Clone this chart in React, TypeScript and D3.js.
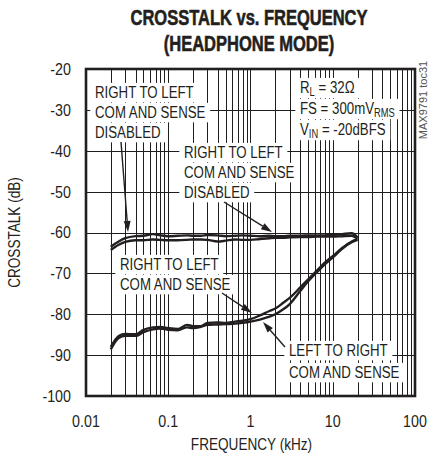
import React, { useEffect, useRef } from 'react';
import * as d3 from 'd3';

const W = 439;
const H = 457;

const titleLines = ['CROSSTALK vs. FREQUENCY', '(HEADPHONE MODE)'];
const xTicks = [0.01, 0.1, 1, 10, 100];
const xTickLabels = ['0.01', '0.1', '1', '10', '100'];
const yTicks = [-20, -30, -40, -50, -60, -70, -80, -90, -100];
const xTitle = 'FREQUENCY (kHz)';
const yTitle = 'CROSSTALK (dB)';

const freqs = [0.02, 0.025, 0.03, 0.04, 0.05, 0.065, 0.08, 0.1, 0.13, 0.17, 0.2, 0.25, 0.3, 0.4, 0.5, 0.65, 0.8, 1, 1.3, 1.7, 2, 2.5, 3, 4, 5, 6.5, 8, 10, 13, 17, 20];

// Right to left, COM and SENSE disabled (two traces)
const rlDisabledA = [-63.5, -62.2, -61.4, -60.9, -60.8, -60.4, -60.7, -60.9, -60.8, -60.7, -60.8, -60.8, -60.6, -60.7, -60.9, -60.8, -60.7, -60.8, -60.9, -60.8, -60.9, -60.9, -60.8, -60.8, -60.7, -60.7, -60.7, -60.6, -60.4, -60.2, -61.2];
const rlDisabledB = [-64.3, -63.0, -62.3, -61.9, -61.9, -61.7, -61.8, -61.9, -61.9, -61.8, -61.7, -61.7, -61.8, -62.2, -62.0, -61.7, -61.8, -61.8, -61.6, -61.4, -61.3, -61.3, -61.2, -61.1, -61.1, -61.0, -61.0, -61.0, -60.9, -60.8, -61.5];
// Right to left / left to right, COM and SENSE
const rlComSense = [-88.0, -85.3, -84.8, -84.9, -83.8, -83.2, -83.1, -83.4, -83.6, -82.6, -82.9, -82.9, -82.1, -82.0, -82.1, -81.8, -81.6, -81.2, -80.3, -79.2, -78.6, -77.2, -76.0, -73.5, -71.5, -69.2, -67.4, -65.8, -63.8, -62.2, -61.6];
const lrComSense = [-88.6, -85.8, -85.3, -85.3, -84.4, -83.7, -83.5, -83.8, -83.9, -83.2, -83.4, -83.1, -82.6, -82.5, -82.4, -82.3, -82.1, -81.8, -81.3, -80.6, -80.0, -78.8, -77.5, -74.4, -72.0, -69.6, -67.8, -66.1, -64.0, -62.4, -61.8];

const series = [rlDisabledA, rlDisabledB, rlComSense, lrComSense];

const FONT = "'Liberation Sans', Arial, sans-serif";
const INK = '#231f20';

type Sel = d3.Selection<any, unknown, null, undefined>;

export default function App() {
  const ref = useRef<SVGSVGElement>(null);

  useEffect(() => {
    const svg = d3.select(ref.current) as Sel;
    svg.selectAll('*').remove();

    const m = { l: 86, r: 415, t: 69, b: 396 };
    const x = d3.scaleLog().domain([0.01, 100]).range([m.l, m.r]);
    const y = d3.scaleLinear().domain([-100, -20]).range([m.b, m.t]);

    const ntext = (
      parent: Sel,
      tx: number,
      ty: number,
      size: number,
      sx: number,
      anchor: string = 'start'
    ) => {
      const g = parent.append('g').attr('transform', `translate(${tx},${ty}) scale(${sx},1)`);
      const t = g
        .append('text')
        .attr('x', 0)
        .attr('y', 0)
        .attr('font-family', FONT)
        .attr('font-size', size)
        .attr('fill', INK)
        .attr('text-anchor', anchor);
      return { g, t };
    };

    svg.append('rect').attr('x', 0).attr('y', 0).attr('width', W).attr('height', H).attr('fill', '#ffffff');

    // grid
    const vLines: number[] = [];
    [0.01, 0.1, 1, 10].forEach((d) => {
      for (let k = 1; k <= 9; k++) vLines.push(d * k);
    });
    const grid = svg.append('g').attr('shape-rendering', 'crispEdges');
    vLines
      .filter((v) => v > 0.011)
      .forEach((v) => {
        const px = Math.round(x(v)) + 0.5;
        grid
          .append('line')
          .attr('x1', px)
          .attr('x2', px)
          .attr('y1', m.t)
          .attr('y2', m.b)
          .attr('stroke', '#1e1e1e')
          .attr('stroke-width', 1);
      });
    yTicks
      .filter((t) => t > -100 && t < -20)
      .forEach((t) => {
        const py = Math.round(y(t)) + 0.5;
        grid
          .append('line')
          .attr('x1', m.l)
          .attr('x2', m.r)
          .attr('y1', py)
          .attr('y2', py)
          .attr('stroke', '#1e1e1e')
          .attr('stroke-width', 1);
      });

    // curves
    const line = d3
      .line<number>()
      .x((_, i) => x(freqs[i]))
      .y((d) => y(d))
      .curve(d3.curveMonotoneX);
    const cg = svg.append('g');
    series.forEach((s) => {
      cg.append('path')
        .attr('d', line(s) as string)
        .attr('fill', 'none')
        .attr('stroke', INK)
        .attr('stroke-width', 2.4)
        .attr('stroke-linejoin', 'round');
    });

    const LS = 17;
    const LSX = 0.78;
    const addLabel = (lines: string[], x0: number, baselines: number[]) => {
      lines.forEach((txt, i) => {
        const { g, t } = ntext(svg, x0, baselines[i], LS, LSX);
        t.text(txt);
        const bb = (t.node() as SVGTextElement).getBBox();
        g.insert('rect', 'text')
          .attr('x', bb.x - 6)
          .attr('y', bb.y + 0.5)
          .attr('width', bb.width + 12)
          .attr('height', bb.height + 0.5)
          .attr('fill', '#fff');
      });
    };
    addLabel(['RIGHT TO LEFT', 'COM AND SENSE', 'DISABLED'], 95, [98, 118, 138]);
    addLabel(['RIGHT TO LEFT', 'COM AND SENSE', 'DISABLED'], 184, [158, 178, 198]);
    addLabel(['RIGHT TO LEFT', 'COM AND SENSE'], 120, [270, 290]);
    addLabel(['LEFT TO RIGHT', 'COM AND SENSE'], 289, [356, 378]);

    // conditions with subscripts
    const condLines: [string, string, string][] = [
      ['R', 'L', ' = 32Ω'],
      ['FS = 300mV', 'RMS', ''],
      ['V', 'IN', ' = -20dBFS'],
    ];
    const condBase = [93, 114, 135];
    condLines.forEach((c, i) => {
      const { g, t } = ntext(svg, 300, condBase[i], LS, LSX);
      t.append('tspan').text(c[0]);
      t.append('tspan').attr('font-size', 12).attr('dy', 3).text(c[1]);
      if (c[2]) t.append('tspan').attr('dy', -3).text(c[2]);
      const bb = (t.node() as SVGTextElement).getBBox();
      g.insert('rect', 'text')
        .attr('x', bb.x - 6)
        .attr('y', bb.y + 0.5)
        .attr('width', bb.width + 12)
        .attr('height', bb.height - 0.5)
        .attr('fill', '#fff');
    });

    // arrows
    const arrow = (x1: number, y1: number, x2: number, y2: number) => {
      const ang = Math.atan2(y2 - y1, x2 - x1);
      const len = 11;
      const hw = 3.5;
      const bx = x2 - len * Math.cos(ang);
      const by = y2 - len * Math.sin(ang);
      svg
        .append('line')
        .attr('x1', x1)
        .attr('y1', y1)
        .attr('x2', bx)
        .attr('y2', by)
        .attr('stroke', INK)
        .attr('stroke-width', 1.4);
      const p = [
        [x2, y2],
        [bx + hw * Math.sin(ang), by - hw * Math.cos(ang)],
        [bx - hw * Math.sin(ang), by + hw * Math.cos(ang)],
      ];
      svg
        .append('path')
        .attr('d', 'M' + p.map((q) => q.join(',')).join('L') + 'Z')
        .attr('fill', INK);
    };
    arrow(121, 142, 128, 232);
    arrow(224, 202, 272, 232);
    arrow(222, 293, 252, 313);
    arrow(285, 347, 263, 322);

    // frame
    svg
      .append('rect')
      .attr('x', m.l)
      .attr('y', m.t)
      .attr('width', m.r - m.l)
      .attr('height', m.b - m.t)
      .attr('fill', 'none')
      .attr('stroke', INK)
      .attr('stroke-width', 2.6);

    // tick labels
    yTicks.forEach((t) => {
      const { t: tt } = ntext(svg, 71, y(t), 17, 0.84, 'end');
      tt.attr('dy', '0.35em').text(String(t));
    });
    xTicks.forEach((t, i) => {
      const { t: tt } = ntext(svg, x(t), 427, 17, 0.84, 'middle');
      tt.text(xTickLabels[i]);
    });
    ntext(svg, (m.l + m.r) / 2 + 1, 450, 17, 0.8, 'middle').t.text(xTitle);
    const yt = svg
      .append('g')
      .attr('transform', `translate(20,${(m.t + m.b) / 2}) rotate(-90) scale(0.8,1)`);
    yt.append('text')
      .attr('font-family', FONT)
      .attr('font-size', 17)
      .attr('fill', INK)
      .attr('text-anchor', 'middle')
      .text(yTitle);

    // title
    titleLines.forEach((s, i) => {
      const { t } = ntext(svg, 249, i === 0 ? 25 : 51, 22, 0.75, 'middle');
      t.attr('font-weight', 'bold')
        .attr('stroke', INK)
        .attr('stroke-width', 0.6)
        .text(s);
    });

    // figure id
    svg
      .append('text')
      .attr('transform', 'translate(427,100) rotate(-90)')
      .attr('text-anchor', 'middle')
      .attr('font-family', FONT)
      .attr('font-size', 11)
      .attr('fill', '#555')
      .text('MAX9791 toc31');
  }, []);

  return (
    <svg
      ref={ref}
      width={W}
      height={H}
      style={{ position: 'absolute', left: 0, top: 0, display: 'block' }}
    />
  );
}
